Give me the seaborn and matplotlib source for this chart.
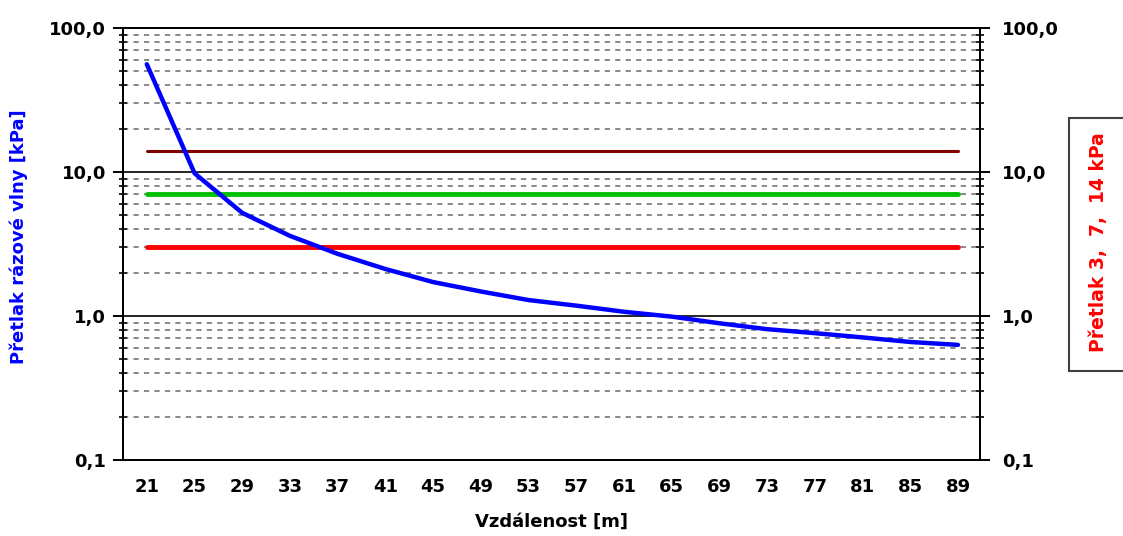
import matplotlib
matplotlib.use("Agg")
import matplotlib.pyplot as plt
import matplotlib.ticker as mticker
from matplotlib.patches import Rectangle
import seaborn as sns
import pandas as pd
import numpy as np

# ---- data ----
distance = [21, 25, 29, 33, 37, 41, 45, 49, 53, 57, 61, 65, 69, 73, 77, 81, 85, 89]
pressure = [56, 9.8, 5.2, 3.6, 2.7, 2.12, 1.72, 1.48, 1.29, 1.18, 1.07, 0.99,
            0.89, 0.81, 0.76, 0.71, 0.66, 0.63]
limit_values = [14, 7, 3]
limit_colors = ["#800000", "#00C000", "#FF0000"]
limit_widths = [2.2, 3.5, 3.5]
x_ticks = list(range(21, 90, 4))

sns.set_theme(style="white")
plt.rcParams['font.family'] = ['DejaVu Sans']

fig = plt.figure(figsize=(11.23, 5.36), dpi=100)
ax = fig.add_axes([0.1095, 0.1418, 0.7632, 0.806])

df = pd.DataFrame({"x": distance, "y": pressure})

# limit lines
for val, col, lw in zip(limit_values, limit_colors, limit_widths):
    ldf = pd.DataFrame({"x": [distance[0], distance[-1]], "y": [val, val]})
    sns.lineplot(data=ldf, x="x", y="y", ax=ax, color=col, linewidth=lw, zorder=3)

sns.lineplot(data=df, x="x", y="y", ax=ax, color="#0000FF", linewidth=3.2, zorder=4)

ax.set_yscale("log")
ax.set_ylim(0.1, 100)
ax.set_xlim(19, 90.85)

fmt = mticker.FuncFormatter(lambda v, p: f"{v:.1f}".replace(".", ","))
ax.yaxis.set_major_locator(mticker.FixedLocator([0.1, 1, 10, 100]))
ax.yaxis.set_major_formatter(fmt)
ax.yaxis.set_minor_locator(mticker.LogLocator(base=10, subs=np.arange(2, 10)))
ax.yaxis.set_minor_formatter(mticker.NullFormatter())

ax.set_xticks(x_ticks)
ax.set_xticklabels([str(t) for t in x_ticks])

# grids
ax.grid(False)
ax.yaxis.grid(True, which="major", color="black", linewidth=1.2, linestyle="-")
ax.yaxis.grid(True, which="minor", color="#808080", linewidth=1.3, linestyle=(0, (2.9, 2.9)))
ax.set_axisbelow(True)

for s in ax.spines.values():
    s.set_color("black")
    s.set_linewidth(1.4)

TICK_FS = 13
ax.tick_params(axis="y", which="major", direction="out", length=7, width=1.4,
               left=True, labelsize=TICK_FS, pad=5, colors="black")
ax.tick_params(axis="y", which="minor", direction="inout", length=6, width=1.4, left=True)
ax.tick_params(axis="x", which="major", length=0, labelsize=TICK_FS, pad=13, colors="black")
for lab in ax.get_yticklabels() + ax.get_xticklabels():
    lab.set_fontweight("bold")

ax.set_xlabel("Vzdálenost [m]", fontsize=13, fontweight="bold", color="black", labelpad=12)
ax.set_ylabel("Přetlak rázové vlny [kPa]", fontsize=13, fontweight="bold", color="#0000FF")
ax.yaxis.set_label_coords(-0.111, 0.517)

# right axis
ax2 = ax.twinx()
ax2.set_yscale("log")
ax2.set_ylim(0.1, 100)
ax2.yaxis.set_major_locator(mticker.FixedLocator([0.1, 1, 10, 100]))
ax2.yaxis.set_major_formatter(fmt)
ax2.yaxis.set_minor_locator(mticker.LogLocator(base=10, subs=np.arange(2, 10)))
ax2.yaxis.set_minor_formatter(mticker.NullFormatter())
ax2.tick_params(axis="y", which="major", direction="out", length=7, width=1.4,
                right=True, labelsize=TICK_FS, pad=9, colors="black")
ax2.tick_params(axis="y", which="minor", direction="inout", length=6, width=1.4, right=True)
for lab in ax2.get_yticklabels():
    lab.set_fontweight("bold")
ax2.grid(False)
for s in ax2.spines.values():
    s.set_color("black")
    s.set_linewidth(1.4)

# right label box
fig.patches.append(Rectangle((0.952, 0.308), 0.06, 0.472, transform=fig.transFigure,
                             facecolor="white", edgecolor="#404040", linewidth=1.5))
fig.text(0.978, 0.548, "Přetlak 3,  7,  14 kPa", rotation=90, color="#FF0000",
         fontsize=13.5, fontweight="bold", ha="center", va="center")

fig.savefig("out.png", dpi=100)
